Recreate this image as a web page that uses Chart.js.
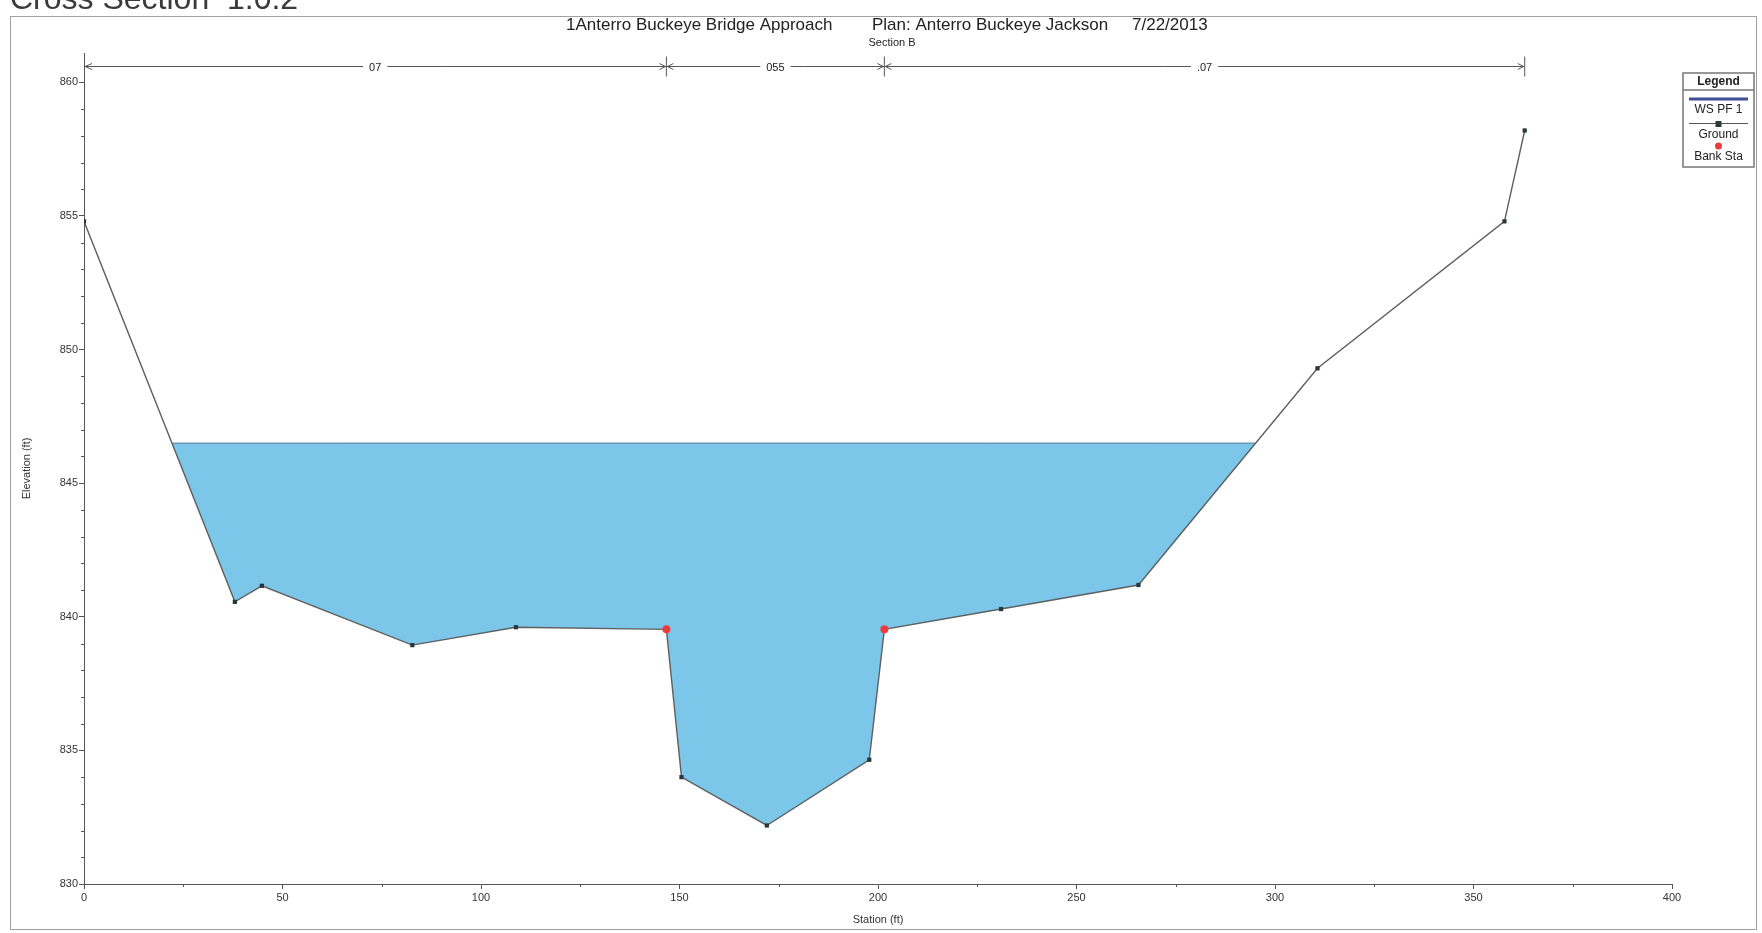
<!DOCTYPE html>
<html>
<head>
<meta charset="utf-8">
<script src="https://cdn.jsdelivr.net/npm/chart.js@4.4.0/dist/chart.umd.min.js"></script>
<style>
  html, body { margin: 0; padding: 0; background: #fff; }
  #wrap { position: relative; width: 1762px; height: 933px; }
</style>
</head>
<body>
<div id="wrap"><canvas id="xsChart" width="1762" height="933"></canvas></div>
<script>
// ground survey points (station ft, elevation ft)
const stations   = [0, 38.0, 44.8, 82.7, 108.8, 146.7, 150.5, 172.0, 197.8, 201.6, 231.0, 265.6, 310.7, 357.8, 362.9];
const elevations = [854.8, 840.56, 841.16, 838.94, 839.61, 839.53, 834.0, 832.19, 834.65, 839.53, 840.29, 841.19, 849.3, 854.8, 858.2];

const bankStations   = [146.7, 201.6];
const bankElevations = [839.53, 839.53];

// water surface PF 1
const wsStations  = [22.2, 295.1];
const wsElevation = 846.5;

// Manning's n regions
const nBreaks = [0, 146.7, 201.6, 362.9];
const nLabels = ['07', '055', '.07'];

const xTicks = [0, 50, 100, 150, 200, 250, 300, 350, 400];
const yTicks = [830, 835, 840, 845, 850, 855, 860];

const FONT = '"Liberation Sans", Arial, sans-serif';

const groundData = stations.map((s, i) => ({ x: s, y: elevations[i] }));
const bankData = bankStations.map((s, i) => ({ x: s, y: bankElevations[i] }));
const wsData = wsStations.map(s => ({ x: s, y: wsElevation }));

const decorations = {
    id: 'decorations',
    afterDraw(chart) {
        const ctx = chart.ctx;
        const xs = chart.scales.x;
        const ys = chart.scales.y;
        const area = chart.chartArea;
        ctx.save();

        // outer frame
        ctx.strokeStyle = '#a0a0a0';
        ctx.lineWidth = 1;
        ctx.strokeRect(10.5, 16.5, 1746, 913);

        // page title, cut at the top
        ctx.fillStyle = '#3a3a3a';
        ctx.font = '32px ' + FONT;
        ctx.textBaseline = 'alphabetic';
        ctx.textAlign = 'left';
        ctx.fillText('Cross Section  1.0.2', 10, 9);

        // plot title
        ctx.fillStyle = '#222';
        ctx.font = '17px ' + FONT;
        ctx.textBaseline = 'middle';
        ctx.fillText('1Anterro Buckeye Bridge Approach', 566, 25);
        ctx.fillText('Plan: Anterro Buckeye Jackson', 872, 25);
        ctx.fillText('7/22/2013', 1132, 25);
        ctx.font = '11px ' + FONT;
        ctx.textAlign = 'center';
        ctx.fillText('Section B', 892, 43);

        // minor ticks
        ctx.strokeStyle = '#555';
        ctx.beginPath();
        for (let v = 831; v < 861; v++) {
            if (v % 5 === 0) continue;
            const y = Math.round(ys.getPixelForValue(v)) + 0.5;
            ctx.moveTo(area.left - 3, y);
            ctx.lineTo(area.left, y);
        }
        for (let v = 25; v < 400; v += 50) {
            const x = Math.round(xs.getPixelForValue(v)) + 0.5;
            ctx.moveTo(x, area.bottom);
            ctx.lineTo(x, area.bottom + 3);
        }
        ctx.stroke();

        // Manning's n line
        const ny = area.top + 13.5;
        const px = nBreaks.map(b => xs.getPixelForValue(b));
        ctx.strokeStyle = '#555';
        ctx.lineWidth = 1;
        ctx.beginPath();
        ctx.moveTo(px[0], ny);
        ctx.lineTo(px[px.length - 1], ny);
        ctx.stroke();
        ctx.beginPath();
        // left arrowhead
        ctx.moveTo(px[0] + 8, ny - 3);
        ctx.lineTo(px[0] + 1, ny);
        ctx.lineTo(px[0] + 8, ny + 3);
        for (let i = 1; i < px.length; i++) {
            const x = px[i];
            ctx.moveTo(x, ny - 10);
            ctx.lineTo(x, ny + 10);
            ctx.moveTo(x - 7, ny - 3);
            ctx.lineTo(x - 1, ny);
            ctx.lineTo(x - 7, ny + 3);
            if (i < px.length - 1) {
                ctx.moveTo(x + 7, ny - 3);
                ctx.lineTo(x + 1, ny);
                ctx.lineTo(x + 7, ny + 3);
            }
        }
        ctx.stroke();
        ctx.font = '11px ' + FONT;
        ctx.textAlign = 'center';
        ctx.textBaseline = 'middle';
        nLabels.forEach((lab, i) => {
            const cx = (px[i] + px[i + 1]) / 2;
            const w = ctx.measureText(lab).width + 12;
            ctx.fillStyle = '#fff';
            ctx.fillRect(cx - w / 2, ny - 6, w, 12);
            ctx.fillStyle = '#222';
            ctx.fillText(lab, cx, ny + 1);
        });

        // legend box
        const lx = 1683, ly = 73, lw = 71, lh = 94;
        const cx = lx + lw / 2;
        ctx.strokeStyle = '#777';
        ctx.lineWidth = 1.5;
        ctx.strokeRect(lx, ly, lw, lh);
        ctx.beginPath();
        ctx.moveTo(lx, ly + 17);
        ctx.lineTo(lx + lw, ly + 17);
        ctx.stroke();
        ctx.fillStyle = '#222';
        ctx.font = 'bold 12px ' + FONT;
        ctx.fillText('Legend', cx, ly + 9);
        ctx.font = '12px ' + FONT;
        ctx.strokeStyle = '#3d4f96';
        ctx.lineWidth = 3;
        ctx.beginPath();
        ctx.moveTo(lx + 6, ly + 26);
        ctx.lineTo(lx + lw - 6, ly + 26);
        ctx.stroke();
        ctx.fillText('WS PF 1', cx, ly + 37);
        ctx.strokeStyle = '#555';
        ctx.lineWidth = 1;
        ctx.beginPath();
        ctx.moveTo(lx + 6, ly + 50.5);
        ctx.lineTo(lx + lw - 6, ly + 50.5);
        ctx.stroke();
        ctx.fillStyle = '#2b3b3b';
        ctx.fillRect(cx - 3, ly + 48, 6, 6);
        ctx.fillStyle = '#222';
        ctx.fillText('Ground', cx, ly + 62);
        ctx.fillStyle = '#ee3b3b';
        ctx.beginPath();
        ctx.arc(cx, ly + 73, 3.5, 0, Math.PI * 2);
        ctx.fill();
        ctx.fillStyle = '#222';
        ctx.fillText('Bank Sta', cx, ly + 84);

        ctx.restore();
    }
};

new Chart(document.getElementById('xsChart'), {
    type: 'line',
    data: {
        datasets: [
            {
                label: 'Ground',
                data: groundData,
                borderColor: '#5f5f5f',
                borderWidth: 1.4,
                pointStyle: 'rect',
                pointRadius: 3,
                pointBackgroundColor: '#28383a',
                pointBorderColor: '#28383a',
                pointBorderWidth: 0,
                tension: 0,
                fill: {
                    target: { value: wsElevation },
                    above: 'rgba(0,0,0,0)',
                    below: '#7cc7e9',
                },
                order: 2,
            },
            {
                label: 'WS PF 1',
                data: wsData,
                borderColor: '#557a98',
                borderWidth: 1,
                pointRadius: 0,
                fill: false,
                order: 1,
            },
            {
                label: 'Bank Sta',
                data: bankData,
                showLine: false,
                pointStyle: 'circle',
                pointRadius: 4,
                pointBackgroundColor: '#ee3b3b',
                pointBorderColor: '#ee3b3b',
                pointBorderWidth: 0,
                order: 0,
            },
        ],
    },
    options: {
        responsive: false,
        animation: false,
        devicePixelRatio: 1,
        layout: { padding: { left: 0, top: 53, right: 90, bottom: 0 } },
        plugins: {
            legend: { display: false },
            tooltip: { enabled: false },
        },
        scales: {
            x: {
                type: 'linear',
                min: 0,
                max: 400,
                afterBuildTicks: scale => { scale.ticks = xTicks.map(v => ({ value: v })); },
                afterFit: scale => { scale.height = 49; },
                ticks: {
                    color: '#333',
                    font: { family: FONT, size: 11 },
                    padding: 2,
                    maxRotation: 0,
                    autoSkip: false,
                },
                grid: { drawOnChartArea: false, tickLength: 5, color: '#555' },
                border: { color: '#555', width: 1 },
                title: {
                    display: true,
                    text: 'Station (ft)',
                    color: '#333',
                    font: { family: FONT, size: 11 },
                    padding: { top: 0, bottom: 6 },
                },
            },
            y: {
                type: 'linear',
                min: 830,
                max: 861.1,
                afterBuildTicks: scale => { scale.ticks = yTicks.map(v => ({ value: v })); },
                afterFit: scale => { scale.width = 84; },
                ticks: {
                    color: '#333',
                    font: { family: FONT, size: 11 },
                    padding: 1,
                },
                grid: { drawOnChartArea: false, tickLength: 5, color: '#555' },
                border: { color: '#555', width: 1 },
                title: {
                    display: true,
                    text: 'Elevation (ft)',
                    color: '#333',
                    font: { family: FONT, size: 11 },
                    padding: { top: 20, bottom: 0 },
                },
            },
        },
    },
    plugins: [decorations],
});
</script>
</body>
</html>
